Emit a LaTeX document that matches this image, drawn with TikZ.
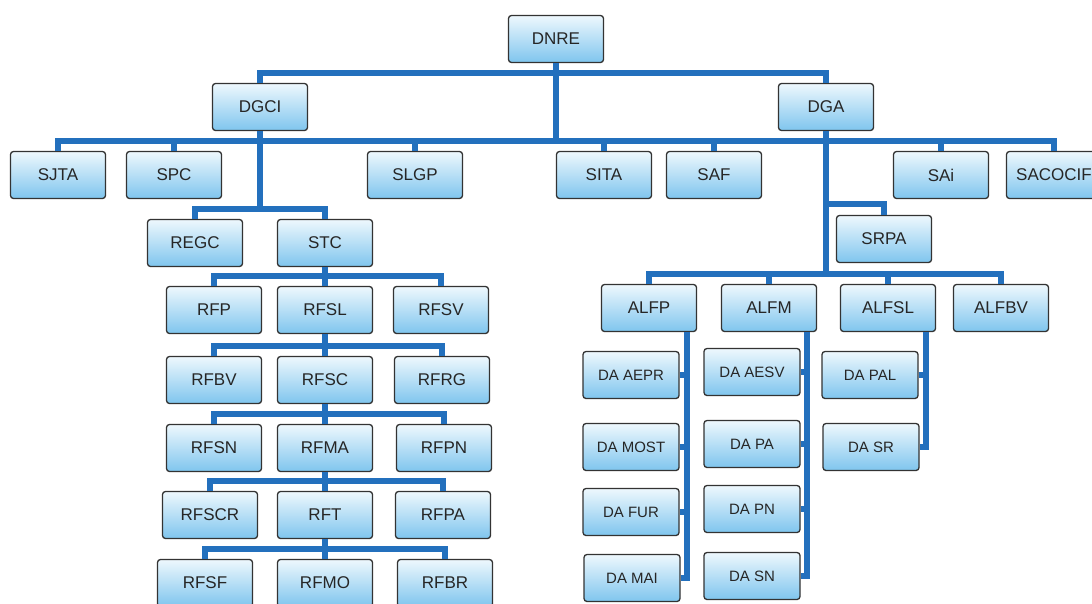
\documentclass[tikz,border=0pt]{standalone}
\usepackage{fontspec}
\setmainfont{Liberation Sans}
\usepackage{xcolor}
\definecolor{cLink}{HTML}{2370BD}
\definecolor{cEdge}{HTML}{333333}
\definecolor{cTop}{HTML}{EEF8FD}
\definecolor{cBot}{HTML}{7FC5EE}
\definecolor{cText}{HTML}{262626}
\usetikzlibrary{positioning,calc}
\tikzset{
  org-box/.style={draw=cEdge,line width=1.3pt,rounded corners=3pt,
    top color=cTop,bottom color=cBot,minimum width=95pt,minimum height=47pt,
    inner sep=2pt,text=cText,font=\fontsize{17}{19}\selectfont},
  % boxes of the DA column, a little smaller text
  org-sub/.style={org-box,minimum width=96pt,font=\fontsize{15}{17}\selectfont},
  link/.style={draw=cLink,line width=5.5pt},
}

\begin{document}
\begin{tikzpicture}[x=1pt,y=-1pt]
  \useasboundingbox (0,0) rectangle (1092,603);
  \clip (0,0) rectangle (1092,603);
  \fill[white] (0,0) rectangle (1092,603);

  % head and the two directions
  \node[org-box] (dnre) at (556,39) {DNRE};
  \node[org-box] (dgci) at (260,107) {DGCI};
  \node[org-box] (dga) at (826,107) {DGA};

  % services on the staff line
  \node[org-box] (sjta) at (58,175) {SJTA};
  \node[org-box] (spc) at (174,175) {SPC};
  \node[org-box] (slgp) at (415,175) {SLGP};
  \node[org-box] (sita) at (604,175) {SITA};
  \node[org-box] (saf) at (714,175) {SAF};
  \node[org-box] (sai) at (941,175) {SAi};
  \node[org-box] (sacocif) at (1054,175) {SACOCIF};

  % DGCI side
  \node[org-box] (regc) at (195,243) {REGC};
  \node[org-box] (stc) at (325,243) {STC};
  \node[org-box] (rfp) at (214,310) {RFP};
  \node[org-box] (rfsl) at (325,310) {RFSL};
  \node[org-box] (rfsv) at (441,310) {RFSV};
  \node[org-box] (rfbv) at (214,380) {RFBV};
  \node[org-box] (rfsc) at (325,380) {RFSC};
  \node[org-box] (rfrg) at (442,380) {RFRG};
  \node[org-box] (rfsn) at (214,448) {RFSN};
  \node[org-box] (rfma) at (325,448) {RFMA};
  \node[org-box] (rfpn) at (444,448) {RFPN};
  \node[org-box] (rfscr) at (210,515) {RFSCR};
  \node[org-box] (rft) at (325,515) {RFT};
  \node[org-box] (rfpa) at (443,515) {RFPA};
  \node[org-box] (rfsf) at (205,583) {RFSF};
  \node[org-box] (rfmo) at (325,583) {RFMO};
  \node[org-box] (rfbr) at (445,583) {RFBR};

  % DGA side
  \node[org-box] (srpa) at (884,239) {SRPA};
  \node[org-box] (alfp) at (649,308) {ALFP};
  \node[org-box] (alfm) at (769,308) {ALFM};
  \node[org-box] (alfsl) at (888,308) {ALFSL};
  \node[org-box] (alfbv) at (1001,308) {ALFBV};
  \node[org-sub] (daaepr) at (631,375) {DA AEPR};
  \node[org-sub] (damost) at (631,447) {DA MOST};
  \node[org-sub] (dafur) at (631,512) {DA FUR};
  \node[org-sub] (damai) at (632,578) {DA MAI};
  \node[org-sub] (daaesv) at (752,372) {DA AESV};
  \node[org-sub] (dapa) at (752,444) {DA PA};
  \node[org-sub] (dapn) at (752,509) {DA PN};
  \node[org-sub] (dasn) at (752,576) {DA SN};
  \node[org-sub] (dapal) at (870,375) {DA PAL};
  \node[org-sub] (dasr) at (871,447) {DA SR};

  \coordinate (b-staff) at ($(sjta.north)+(0,-10)$);
  \coordinate (b-regc) at ($(regc.north)+(0,-10)$);
  \coordinate (b-alf) at ($(alfp.north)+(0,-10)$);

  \draw[link] (dgci.north) -- ++(0,-10) -| (dga.north);
  \draw[link] (dnre.south) -- (dnre.south |- b-staff);
  \draw[link] (sjta.north) -- ++(0,-10) -| (sacocif.north);
  \foreach \n in {spc,slgp,sita,saf,sai}
    \draw[link] (\n.north) -- ++(0,-10);

  \draw[link] (dgci.south) -- (dgci.south |- b-regc);
  \draw[link] (regc.north) -- ++(0,-10) -| (stc.north);
  \foreach \p/\l/\m/\r in {stc/rfp/rfsl/rfsv,rfsl/rfbv/rfsc/rfrg,
      rfsc/rfsn/rfma/rfpn,rfma/rfscr/rft/rfpa,rft/rfsf/rfmo/rfbr} {
    \draw[link] (\l.north) -- ++(0,-10) -| (\r.north);
    \draw[link] (\p.south) -- (\m.north);
  }

  \draw[link] (dga.south) -- (dga.south |- b-alf);
  \draw[link] (srpa.north) -- ++(0,-11) -| (dga.south);
  \draw[link] (alfp.north) -- ++(0,-10) -| (alfbv.north);
  \foreach \n in {alfm,alfsl}
    \draw[link] (\n.north) -- ++(0,-10);

  \foreach \a/\z/\rest in {alfp/damai/{daaepr,damost,dafur},
      alfm/dasn/{daaesv,dapa,dapn},alfsl/dasr/{dapal}} {
    \coordinate (trunk) at ($(\a.south east)+(-10,0)$);
    \draw[link] (trunk) |- (\z.east);
    \foreach \n in \rest
      \draw[link] (\n.east) -- (\n.east -| trunk);
  }
\end{tikzpicture}
\end{document}
